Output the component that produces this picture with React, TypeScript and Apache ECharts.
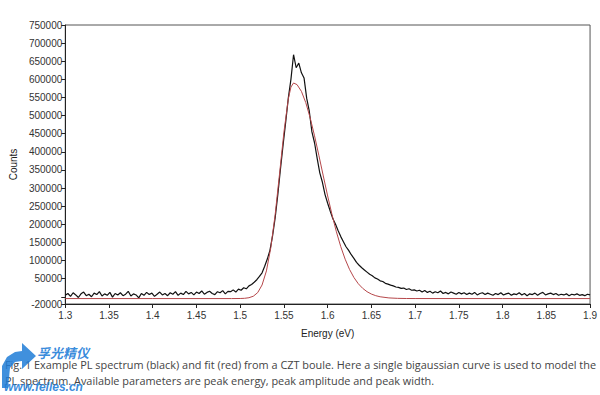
import React, { useEffect, useRef } from "react";
import * as echarts from "echarts";

// Measured PL spectrum (black): sampled every 0.003 eV from 1.300 eV to 1.900 eV
const E_START = 1.3;
const E_STEP = 0.003;
const spectrumCounts = [
  // 1.300 - 1.486
  4000, 9000, 1000, 11000, 5000, -2000, 8000, 13000, 3000, 7000,
  0, 10000, 6000, 14000, 2000, 8000, 4000, 12000, -1000, 9000,
  5000, 11000, 3000, 7000, 15000, 2000, 8000, 5000, -3000, 9000,
  4000, 12000, 6000, 10000, 1000, 7000, 13000, 5000, 9000, 3000,
  11000, 7000, 14000, 4000, 10000, 6000, 15000, 8000, 12000, 5000,
  13000, 9000, 16000, 7000, 12000, 15000, 9000, 6000, 14000, 11000,
  17000, 8000, 15000,
  // 1.489 - 1.705
  14000, 19000, 13000, 21000, 18000, 25000, 22000, 30000, 34000, 40000,
  47000, 56000, 66000, 84000, 104000, 128000, 168000, 218000, 282000, 352000,
  418000, 482000, 548000, 600000, 668000, 632000, 645000, 618000, 604000, 548000,
  512000, 455000, 425000, 382000, 342000, 316000, 282000, 258000, 236000, 215000,
  200000, 182000, 166000, 152000, 138000, 128000, 116000, 106000, 95000, 87000,
  80000, 74000, 68000, 62000, 58000, 52000, 49000, 44000, 42000, 37000,
  35000, 32000, 30000, 27000, 26000, 23000, 24000, 20000, 22000, 18000,
  19000, 16000, 18000,
  // 1.708 - 1.900
  13000, 17000, 12000, 15000, 10000, 14000, 11000, 16000, 9000, 12000,
  8000, 13000, 10000, 7000, 12000, 8000, 11000, 6000, 10000, 7000,
  12000, 5000, 9000, 11000, 6000, 10000, 7000, 4000, 9000, 6000,
  11000, 5000, 8000, 10000, 4000, 8000, 6000, 11000, 5000, 9000,
  3000, 8000, 6000, 10000, 4000, 9000, 12000, 5000, 8000, 10000,
  6000, 9000, 4000, 7000, 5000, 8000, 3000, 7000, 5000, 8000,
  4000, 6000, 3000, 7000, 5000,
];

// Bigaussian fit (red)
const fitEnergy = [
  1.3, 1.4, 1.49, 1.5, 1.505, 1.51, 1.515, 1.52, 1.525, 1.53,
  1.535, 1.54, 1.545, 1.55, 1.555, 1.558, 1.561, 1.565, 1.57, 1.575,
  1.58, 1.585, 1.59, 1.595, 1.6, 1.605, 1.61, 1.615, 1.62, 1.625,
  1.63, 1.635, 1.64, 1.645, 1.65, 1.655, 1.66, 1.67, 1.68, 1.69,
  1.7, 1.8, 1.9,
];
const fitCounts = [
  -5000, -5000, -5000, -4790, -4270, -2700, 1480, 11400, 32400, 71400,
  135400, 227000, 339300, 454100, 545900, 578700, 590000, 585400, 566900, 535700,
  493700, 444200, 389600, 333400, 278100, 226300, 179300, 138200, 103700, 75500,
  53200, 36000, 23300, 14000, 7400, 2970, -40, -3200, -4410, -4830,
  -4950, -5000, -5000,
];

const yLabelValues = [
  -20000, 50000, 100000, 150000, 200000, 250000, 300000, 350000, 400000,
  450000, 500000, 550000, 600000, 650000, 700000, 750000,
];
const yTickValues = [-20000, 0, ...yLabelValues.slice(1)];

const X_MIN = 1.3;
const X_MAX = 1.9;
const X_INTERVAL = 0.05;
const Y_MIN = -20000;
const Y_MAX = 750000;

const captionLine1 =
  "Fig. 1 Example PL spectrum (black) and fit (red) from a CZT boule. Here a single bigaussian curve is used to model the";
const captionLine2 =
  "PL spectrum. Available parameters are peak energy, peak amplitude and peak width.";
const watermarkCn = "孚光精仪";
const watermarkUrl = "www.felles.cn";

export default function App() {
  const ref = useRef<HTMLDivElement>(null);

  useEffect(() => {
    document.body.style.margin = "0";
    const chart = echarts.init(ref.current!, null, { renderer: "svg" });
    const spectrum = spectrumCounts.map((v, i) => [
      +(E_START + i * E_STEP).toFixed(3),
      v,
    ]);
    const fit = fitEnergy.map((e, i) => [e, fitCounts[i]]);
    const axisFont = "Liberation Sans, Arial, sans-serif";
    const captionFont = "Open Sans, sans-serif";

    chart.setOption({
      animation: false,
      backgroundColor: "#ffffff",
      grid: {
        left: 65,
        right: 8,
        top: 25,
        bottom: 91,
        show: true,
        borderColor: "#555",
        borderWidth: 1,
        backgroundColor: "transparent",
      },
      xAxis: {
        type: "value",
        min: X_MIN,
        max: X_MAX,
        interval: X_INTERVAL,
        name: "Energy (eV)",
        nameLocation: "middle",
        nameGap: 24,
        nameTextStyle: { fontFamily: axisFont, fontSize: 10, color: "#222" },
        axisLine: { show: true, onZero: false, lineStyle: { color: "#222", width: 1 } },
        axisTick: { show: true, length: 4, lineStyle: { color: "#222" } },
        axisLabel: {
          fontFamily: axisFont,
          fontSize: 10,
          color: "#333",
          margin: 6,
          formatter: (v: number) => String(+v.toFixed(2)),
        },
        splitLine: { show: false },
      },
      yAxis: {
        type: "value",
        min: Y_MIN,
        max: Y_MAX,
        name: "Counts",
        nameLocation: "middle",
        nameGap: 45,
        nameTextStyle: { fontFamily: axisFont, fontSize: 10, color: "#222" },
        axisLine: { show: true, onZero: false, lineStyle: { color: "#222", width: 1 } },
        axisTick: {
          show: true,
          length: 4,
          customValues: yTickValues,
          lineStyle: { color: "#222" },
        },
        axisLabel: {
          fontFamily: axisFont,
          fontSize: 10,
          color: "#333",
          margin: 3,
          customValues: yLabelValues,
          formatter: (v: number) => String(v),
        },
        splitLine: { show: false },
      },
      series: [
        {
          type: "line",
          data: spectrum,
          showSymbol: false,
          symbol: "none",
          lineStyle: { color: "#111", width: 1.2 },
          z: 3,
        },
        {
          type: "line",
          data: fit,
          showSymbol: false,
          symbol: "none",
          lineStyle: { color: "#b5474a", width: 1 },
          z: 4,
        },
      ],
      graphic: [
        {
          type: "text",
          left: 5,
          top: 359,
          style: {
            text: captionLine1,
            fontFamily: captionFont,
            fontSize: 10.9,
            fill: "#444",
          },
        },
        {
          type: "text",
          left: 5,
          top: 375,
          style: {
            text: captionLine2,
            fontFamily: captionFont,
            fontSize: 10.9,
            fill: "#444",
          },
        },
        {
          type: "polygon",
          shape: {
            points: [
              [2, 388], [2, 366], [7, 357], [15, 352], [22, 351],
              [22, 343], [36, 356], [22, 369], [22, 361], [15, 362],
              [10, 368], [8, 388],
            ],
          },
          style: { fill: "rgba(30,125,215,0.85)" },
          z: 10,
        },
        {
          type: "text",
          left: 37,
          top: 346,
          style: {
            text: watermarkCn,
            fontFamily: "Noto Sans CJK SC, sans-serif",
            fontSize: 13,
            fontStyle: "italic",
            fontWeight: "bold",
            fill: "rgba(30,125,215,0.9)",
          },
          z: 10,
        },
        {
          type: "text",
          left: 4,
          top: 381,
          style: {
            text: watermarkUrl,
            fontFamily: "Liberation Sans, sans-serif",
            fontSize: 12,
            fontStyle: "italic",
            fontWeight: "bold",
            fill: "rgba(30,125,215,0.9)",
          },
          z: 10,
        },
      ],
    });

    return () => chart.dispose();
  }, []);

  return <div ref={ref} style={{ width: 600, height: 395 }} />;
}
